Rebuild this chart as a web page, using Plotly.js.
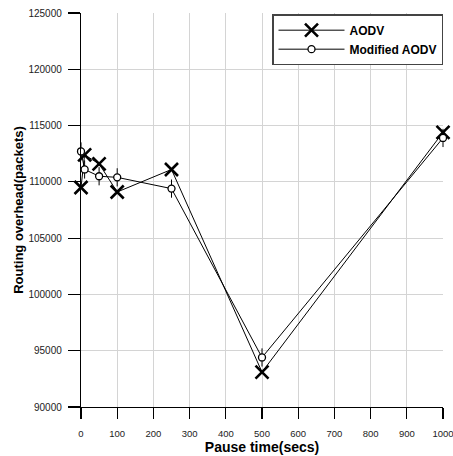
<!DOCTYPE html>
<html>
<head>
<meta charset="utf-8">
<script src="https://cdn.plot.ly/plotly-3.0.1.min.js"></script>
<style>html,body{margin:0;padding:0;background:#fff;}#chart{width:453px;height:456px;}</style>
</head>
<body>
<div id="chart"></div>
<script>
var pauseTimes = [0, 10, 50, 100, 250, 500, 1000];
var aodv = [109500, 112400, 111600, 109100, 111100, 93100, 114400];
var modifiedAodv = [112700, 111100, 110500, 110400, 109400, 94400, 113900];
var seriesNames = ['AODV', 'Modified AODV'];
var xTicks = [0, 100, 200, 300, 400, 500, 600, 700, 800, 900, 1000];
var yTicks = [90000, 95000, 100000, 105000, 110000, 115000, 120000, 125000];

var FONT = 'Liberation Sans, Arial, sans-serif';

var traces = [
  {
    x: pauseTimes, y: aodv, name: seriesNames[0], type: 'scatter', mode: 'lines+markers',
    line: {color: '#000', width: 1},
    marker: {symbol: 'x-thin-open', size: 13, color: '#000', line: {color: '#000', width: 2.6}},
    cliponaxis: false
  },
  {
    x: pauseTimes, y: modifiedAodv, name: seriesNames[1] + '_stem', type: 'scatter', mode: 'markers',
    marker: {symbol: 'line-ns-open', size: 13, color: '#000', line: {color: '#000', width: 1}},
    showlegend: false, cliponaxis: false, hoverinfo: 'skip'
  },
  {
    x: pauseTimes, y: modifiedAodv, name: seriesNames[1], type: 'scatter', mode: 'lines+markers',
    line: {color: '#000', width: 1},
    marker: {symbol: 'circle', size: 7, color: '#fff', line: {color: '#000', width: 1.3}},
    cliponaxis: false
  }
];

var layout = {
  width: 453, height: 456,
  margin: {l: 81, r: 10, t: 13, b: 49, pad: 0},
  paper_bgcolor: '#fff', plot_bgcolor: '#fff',
  font: {family: FONT, size: 10, color: '#222'},
  showlegend: true,
  legend: {
    x: 1, xanchor: 'right', y: 0.997, yanchor: 'top',
    bgcolor: '#fff', bordercolor: '#444', borderwidth: 1.5,
    font: {family: FONT, size: 12, color: '#000', weight: 'bold'},
    tracegroupgap: 0, itemwidth: 66
  },
  xaxis: {
    range: [0, 1000], tickvals: xTicks, ticktext: xTicks.map(String),
    showline: true, linecolor: '#000', linewidth: 1.2,
    ticks: 'outside', ticklen: 11, tickwidth: 1.2, tickcolor: '#000',
    showgrid: true, gridcolor: '#d4d4d4', gridwidth: 1, zeroline: false,
    tickfont: {family: FONT, size: 9.5, color: '#222'},
    ticklabelstandoff: 6, ticklabeloverflow: 'allow',
    title: {text: 'Pause time(secs)', font: {family: FONT, size: 14, color: '#000', weight: 'bold'}, standoff: 1}
  },
  yaxis: {
    range: [90000, 125000], tickvals: yTicks, ticktext: yTicks.map(String),
    showline: true, linecolor: '#000', linewidth: 1.2,
    ticks: 'outside', ticklen: 12, tickwidth: 1.2, tickcolor: '#000',
    showgrid: true, gridcolor: '#d4d4d4', gridwidth: 1, zeroline: false,
    tickfont: {family: FONT, size: 10, color: '#222'},
    ticklabelstandoff: 4, ticklabeloverflow: 'allow',
    title: {text: 'Routing overhead(packets)', font: {family: FONT, size: 13, color: '#000', weight: 'bold'}, standoff: 1}
  }
};

Plotly.newPlot('chart', traces, layout, {displayModeBar: false, staticPlot: true});
</script>
</body>
</html>
